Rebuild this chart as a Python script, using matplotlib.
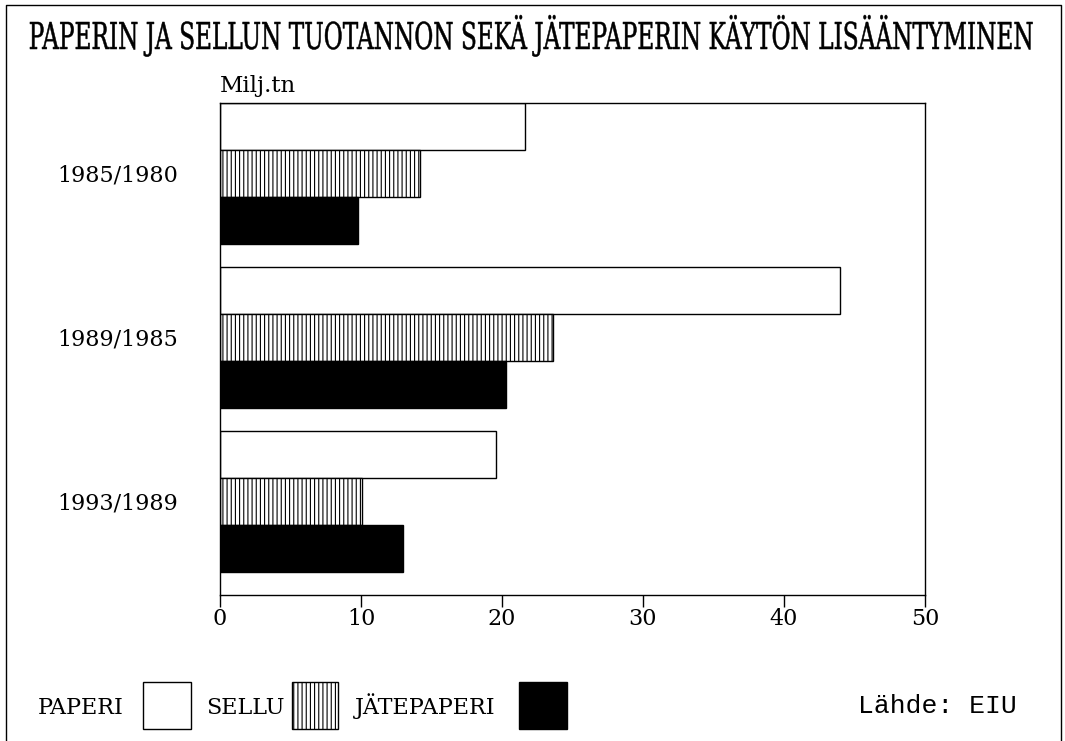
import matplotlib
matplotlib.use("Agg")
import matplotlib.pyplot as plt
from matplotlib.patches import Rectangle
from matplotlib.lines import Line2D
from matplotlib.patheffects import AbstractPathEffect
from matplotlib.transforms import Affine2D

# data (million tonnes growth between periods)
periods = ["1985/1980", "1989/1985", "1993/1989"]
paperi = [21.6, 44.0, 19.6]
sellu = [14.2, 23.6, 10.1]
jatepaperi = [9.8, 20.3, 13.0]
series_names = ["PAPERI", "SELLU", "JÄTEPAPERI"]
x_ticks = [0, 10, 20, 30, 40, 50]

plt.rcParams["hatch.linewidth"] = 0.8
serif = "DejaVu Serif"


class Tall(AbstractPathEffect):
    # stretch text vertically around its baseline (condensed look), slightly heavier stroke
    def __init__(self, sy, cy, lw=0.35):
        super().__init__()
        self.sy = sy
        self.cy = cy
        self.lw = lw

    def draw_path(self, renderer, gc, tpath, affine, rgbFace=None):
        t = affine + Affine2D().translate(0, -self.cy).scale(1, self.sy).translate(0, self.cy)
        gc0 = renderer.new_gc()
        gc0.copy_properties(gc)
        gc0.set_linewidth(self.lw)
        gc0.set_foreground("black")
        renderer.draw_path(gc0, tpath, t, rgbFace)
        gc0.restore()


fig = plt.figure(figsize=(10.65, 7.41), dpi=100)
ax = fig.add_axes([220 / 1065, 1 - 595 / 741, 705 / 1065, 492 / 741])

centers = [0, 3.5, 7]
h = 1.0
ax.barh([c - 1 for c in centers], paperi, height=h, color="white", edgecolor="black", lw=1)
ax.barh(centers, sellu, height=h, color="white", edgecolor="black", lw=1, hatch="||||")
ax.barh([c + 1 for c in centers], jatepaperi, height=h, color="black", edgecolor="black", lw=1)

ax.set_xlim(0, 50)
ax.set_ylim(9.0, -1.5)
ax.set_xticks(x_ticks)
ax.set_xticklabels([str(t) for t in x_ticks], fontsize=16, family=serif)
ax.set_yticks(centers)
ax.set_yticklabels(periods, fontsize=16, family=serif)
ax.tick_params(axis="y", length=0, pad=30)
ax.tick_params(axis="x", direction="out", length=8.5, width=1, pad=1)
for s in ax.spines.values():
    s.set_linewidth(1)

# texts
title_base = 1 - 49 / 741
title = fig.text(530 / 1065, title_base,
                 "PAPERIN JA SELLUN TUOTANNON SEKÄ JÄTEPAPERIN KÄYTÖN LISÄÄNTYMINEN",
                 ha="center", va="baseline", fontsize=16, family=serif)
fig.text(220 / 1065, 1 - 92 / 741, "Milj.tn", fontsize=16.5, family=serif)

# legend
leg_x = [38, 206, 355]
box_x = [143, 292, 519]
box_w = [48, 46, 48]
styles = [dict(facecolor="white"), dict(facecolor="white", hatch="||||"), dict(facecolor="black")]
for name, tx, bx, bw, st in zip(series_names, leg_x, box_x, box_w, styles):
    fig.text(tx / 1065, 1 - 714 / 741, name, fontsize=16, family=serif)
    fig.add_artist(Rectangle((bx / 1065, 1 - 729 / 741), bw / 1065, 47 / 741,
                             transform=fig.transFigure, edgecolor="black", lw=1, **st))

fig.text(858 / 1065, 1 - 713 / 741, "Lähde: EIU", fontsize=19, family="Liberation Mono")

# outer frame (left, top, right)
fig.add_artist(Line2D([6 / 1065, 6 / 1065, 1061 / 1065, 1061 / 1065],
                      [0, 1 - 5 / 741, 1 - 5 / 741, 0],
                      transform=fig.transFigure, color="black", lw=1))

# fit the title to the original width, then make it taller like the condensed original
fig.canvas.draw()
w = title.get_window_extent().width
fs = 16 * 1007 / w
title.set_fontsize(fs)
caps_px = 0.729 * fs * 100 / 72
title.set_path_effects([Tall(27 / caps_px, title_base * fig.bbox.height)])

fig.savefig("out.png", dpi=100)
